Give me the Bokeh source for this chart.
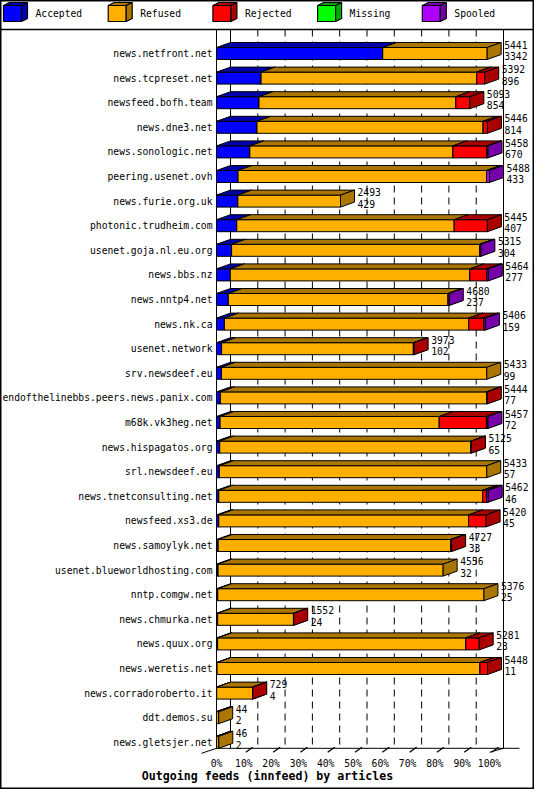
from bokeh.plotting import figure
from bokeh.models import Range1d, ColumnDataSource
from bokeh.core.properties import value
from bokeh.embed import file_html
from bokeh.resources import INLINE

# ---------------- data ----------------
hosts = [
    "news.netfront.net", "news.tcpreset.net", "newsfeed.bofh.team", "news.dne3.net",
    "news.sonologic.net", "peering.usenet.ovh", "news.furie.org.uk", "photonic.trudheim.com",
    "usenet.goja.nl.eu.org", "news.bbs.nz", "news.nntp4.net", "news.nk.ca",
    "usenet.network", "srv.newsdeef.eu", "endofthelinebbs.peers.news.panix.com",
    "m68k.vk3heg.net", "news.hispagatos.org", "srl.newsdeef.eu", "news.tnetconsulting.net",
    "newsfeed.xs3.de", "news.samoylyk.net", "usenet.blueworldhosting.com", "nntp.comgw.net",
    "news.chmurka.net", "news.quux.org", "news.weretis.net", "news.corradoroberto.it",
    "ddt.demos.su", "news.gletsjer.net",
]
totals = [5441, 5392, 5093, 5446, 5458, 5488, 2493, 5445, 5315, 5464, 4680, 5406, 3973, 5433,
          5444, 5457, 5125, 5433, 5462, 5420, 4727, 4556, 5376, 1552, 5281, 5448, 729, 44, 46]
accepted = [3342, 896, 854, 814, 670, 433, 429, 407, 304, 277, 237, 159, 102, 99,
            77, 72, 65, 57, 46, 45, 33, 32, 25, 24, 23, 11, 4, 2, 2]
refused = [2099, 4333, 3957, 4546, 4082, 4995, 2064, 4372, 4986, 4816, 4418, 4911, 3856, 5334,
           5352, 4406, 5050, 5376, 5303, 5022, 4674, 4524, 5351, 1523, 4990, 5286, 720, 42, 44]
rejected = [0, 163, 282, 86, 686, 0, 0, 666, 0, 341, 0, 306, 15, 0,
            15, 949, 10, 0, 78, 353, 20, 0, 0, 5, 268, 151, 5, 0, 0]
missing = [0, 0, 0, 0, 0, 0, 0, 0, 0, 0, 0, 0, 0, 0,
           0, 0, 0, 0, 0, 0, 0, 0, 0, 0, 0, 0, 0, 0, 0]
spooled = [0, 0, 0, 0, 20, 60, 0, 0, 25, 30, 25, 30, 0, 0,
           0, 30, 0, 0, 35, 0, 0, 0, 0, 0, 0, 0, 0, 0, 0]

series_names = ["Accepted", "Refused", "Rejected", "Missing", "Spooled"]
front_colors = ["#0000FF", "#FFAF00", "#FF0000", "#00FF00", "#AF00FF"]
side_colors = ["#0000AA", "#AA7500", "#AA0000", "#00AA00", "#7500AA"]
x_ticks = [0, 10, 20, 30, 40, 50, 60, 70, 80, 90, 100]
x_tick_labels = ["0%", "10%", "20%", "30%", "40%", "50%", "60%", "70%", "80%", "90%", "100%"]
title_text = "Outgoing feeds (innfeed) by articles"

# ---------------- geometry (pixels) ----------------
W, H = 534, 789
X0 = 216.0          # px of 0% on the front plane
PXP = 2.73          # px per percent
ROW0 = 53.0         # px of first row centre
ROWP = 24.6         # px per row
DEPTH_X, DEPTH_Y = 14.0, 5.0
BAR_H = 12.0
SEP_Y = 29.0
FONT = value("DejaVu Sans Mono")


def fx(px):
    return (px - X0) / PXP


def fy(py):
    return (py - ROW0) / ROWP


DX = DEPTH_X / PXP
DY = DEPTH_Y / ROWP
HH = BAR_H / 2 / ROWP

n = len(hosts)
last_row_px = ROW0 + (n - 1) * ROWP
FLOOR = last_row_px + BAR_H / 2

p = figure(width=W, height=H, output_backend="svg", toolbar_location=None,
           x_axis_type=None, y_axis_type=None, title=None,
           x_range=Range1d(fx(0), fx(W)), y_range=Range1d(fy(H), fy(0)))
p.min_border = 0
p.min_border_left = p.min_border_right = p.min_border_top = p.min_border_bottom = 0
p.outline_line_color = "black"
p.outline_line_width = 2
p.background_fill_color = "white"
p.border_fill_color = "white"

# ---------------- frame / grid ----------------
# legend separator
p.segment(x0=[fx(0)], y0=[fy(SEP_Y)], x1=[fx(W)], y1=[fy(SEP_Y)], line_color="black", line_width=1.5)
# dashed grid on the back wall
gx = [t + DX for t in x_ticks[1:-1]]
p.segment(x0=gx, y0=[fy(SEP_Y)] * len(gx), x1=gx, y1=[fy(FLOOR - 2)] * len(gx),
          line_color="black", line_width=1, line_dash="7 5")
# solid verticals: front axis, back left wall, back right wall
p.segment(x0=[0, DX, 100 + DX], y0=[fy(SEP_Y)] * 3,
          x1=[0, DX, 100 + DX], y1=[fy(FLOOR), fy(FLOOR), fy(FLOOR)],
          line_color="black", line_width=1)
# floor: main edge plus the two slanted corners
ext = fx(X0 + 16) - fx(X0)
p.segment(x0=[0, fx(X0 - DEPTH_X - 1), 100],
          y0=[fy(FLOOR), fy(FLOOR + DEPTH_Y), fy(FLOOR + 4)],
          x1=[100 + DX + ext, 0, 100 + DX],
          y1=[fy(FLOOR), fy(FLOOR), fy(FLOOR)],
          line_color="black", line_width=1)
# small floor ticks
tx0 = [t + 2 / PXP for t in x_ticks[1:]]
tx1 = [t + 9 / PXP for t in x_ticks[1:]]
p.segment(x0=tx0, y0=[fy(FLOOR + 4)] * len(tx0), x1=tx1, y1=[fy(FLOOR - 1)] * len(tx1),
          line_color="black", line_width=1.3)

# ---------------- 3D stacked bars ----------------
series = [accepted, refused, rejected, missing, spooled]
max_total = max(totals)
xs, ys, fills = [], [], []
for i in range(n):
    cum = 0
    for s, vals in enumerate(series):
        v = vals[i]
        if v <= 0:
            continue
        a = cum / max_total * 100
        cum += v
        b = cum / max_total * 100
        top, bot = i - HH, i + HH
        # front
        xs.append([a, b, b, a]); ys.append([top, top, bot, bot]); fills.append(front_colors[s])
        # top face
        xs.append([a, b, b + DX, a + DX]); ys.append([top, top, top - DY, top - DY]); fills.append(side_colors[s])
        # right side
        xs.append([b, b + DX, b + DX, b]); ys.append([top, top - DY, bot - DY, bot]); fills.append(side_colors[s])
p.patches(xs="xs", ys="ys", fill_color="fill", line_color="black", line_width=1,
          source=ColumnDataSource(dict(xs=xs, ys=ys, fill=fills)))

# ---------------- labels ----------------
rows = list(range(n))
p.text(x=[fx(212)] * n, y=rows, text=hosts, text_font=FONT, text_font_size="9.7px",
       text_align="right", text_baseline="middle", text_color="black")
end_x = [t / max_total * 100 + DX + 3 / PXP for t in totals]
p.text(x=end_x, y=[r - 9 / ROWP for r in rows], text=[str(t) for t in totals], text_font=FONT,
       text_font_size="9.7px", text_align="left", text_baseline="middle", text_color="black")
p.text(x=end_x, y=[r + 2.5 / ROWP for r in rows], text=[str(a) for a in accepted], text_font=FONT,
       text_font_size="9.7px", text_align="left", text_baseline="middle", text_color="black")
# x tick labels
p.text(x=x_ticks, y=[fy(FLOOR + 15)] * len(x_ticks), text=x_tick_labels, text_font=FONT,
       text_font_size="9.7px", text_align="center", text_baseline="middle", text_color="black")
# title
p.text(x=[fx(267)], y=[fy(FLOOR + 28)], text=[title_text], text_font=FONT,
       text_font_size="11.6px", text_font_style="bold", text_align="center",
       text_baseline="middle", text_color="black")

# ---------------- legend (3D cubes) ----------------
lxs, lys, lfill = [], [], []
ltx, lty, ltext = [], [], []
CUBE_W, CUBE_H, LDX, LDY = 18.0, 16.0, 6.0, 3.0
for k, name in enumerate(series_names):
    cx = 3 + k * 104.7
    ct = 5.0
    cb = ct + CUBE_H
    cr = cx + CUBE_W
    lxs.append([fx(cx), fx(cr), fx(cr), fx(cx)]); lys.append([fy(ct), fy(ct), fy(cb), fy(cb)]); lfill.append(front_colors[k])
    lxs.append([fx(cx), fx(cr), fx(cr + LDX), fx(cx + LDX)]); lys.append([fy(ct), fy(ct), fy(ct - LDY), fy(ct - LDY)]); lfill.append(side_colors[k])
    lxs.append([fx(cr), fx(cr + LDX), fx(cr + LDX), fx(cr)]); lys.append([fy(ct), fy(ct - LDY), fy(cb - LDY), fy(cb)]); lfill.append(side_colors[k])
    ltx.append(fx(cx + 32)); lty.append(fy((ct + cb) / 2)); ltext.append(name)
p.patches(xs="xs", ys="ys", fill_color="fill", line_color="black", line_width=1.2,
          source=ColumnDataSource(dict(xs=lxs, ys=lys, fill=lfill)))
p.text(x=ltx, y=lty, text=ltext, text_font=FONT, text_font_size="9.7px",
       text_align="left", text_baseline="middle", text_color="black")

open("out.html", "w").write(file_html(p, INLINE))
